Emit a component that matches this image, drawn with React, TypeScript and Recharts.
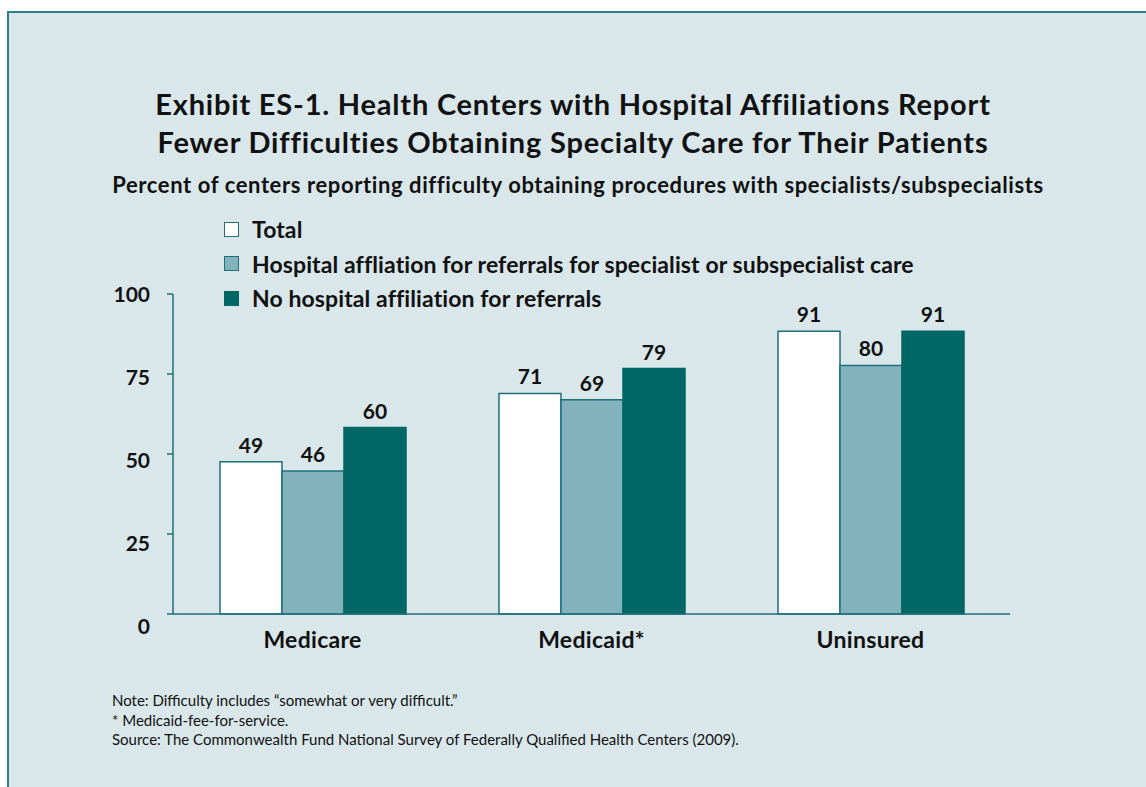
import React from 'react';
import { BarChart, Bar, XAxis, YAxis, Legend, LabelList } from 'recharts';

const categories = ['Medicare', 'Medicaid*', 'Uninsured'];
const totalValues = [49, 71, 91];
const affiliatedValues = [46, 69, 80];
const notAffiliatedValues = [60, 79, 91];
const yTicks = [0, 25, 50, 75, 100];
const boundaryTicks = [0, 1, 2, 3];

const seriesInfo = [
  { key: 'total', name: 'Total', fill: '#ffffff', stroke: '#1f6f7b' },
  { key: 'affiliated', name: 'Hospital affliation for referrals for specialist or subspecialist care', fill: '#82b3bd', stroke: '#1f6f7b' },
  { key: 'notAffiliated', name: 'No hospital affiliation for referrals', fill: '#006766', stroke: '#006766' },
];

const data = categories.map((name, i) => ({
  name,
  total: totalValues[i],
  affiliated: affiliatedValues[i],
  notAffiliated: notAffiliatedValues[i],
}));

const FONT = 'Lato, "Open Sans", sans-serif';
const AXIS = '#1f6f7b';

const YTick = ({ x, y, payload }: any) => {
  // labels in the original sit a little lower the closer they are to 0
  const shift = -1 + (100 - payload.value) * 0.12;
  return (
    <text x={x} y={y + shift} textAnchor="end" dominantBaseline="central"
      fontFamily={FONT} fontWeight={700} fontSize={21} fill="#111">
      {payload.value}
    </text>
  );
};

const LegendContent = () => (
  <div style={{ fontFamily: FONT, fontWeight: 700, fontSize: 23, letterSpacing: 0.1, color: '#111' }}>
    {seriesInfo.map((s) => (
      <div key={s.key} style={{ display: 'flex', alignItems: 'center', height: 34.5 }}>
        <span style={{
          display: 'inline-block', width: 13, height: 13, background: s.fill,
          border: `1.5px solid ${s.stroke}`, marginRight: 13,
        }} />
        <span style={{ whiteSpace: 'nowrap' }}>{s.name}</span>
      </div>
    ))}
  </div>
);

export default function App() {
  return (
    <div style={{
      position: 'fixed', left: 7, top: 11, width: 1139, height: 776, boxSizing: 'border-box',
      background: '#d9e7ea', borderTop: '2px solid #2f7f8a', borderLeft: '2px solid #2f7f8a',
      fontFamily: FONT, color: '#111', overflow: 'hidden',
    }}>
      <div style={{
        position: 'absolute', left: 0, width: 1128, top: 72, textAlign: 'center',
        fontWeight: 700, fontSize: 29, lineHeight: '38px', letterSpacing: 0.8,
      }}>
        Exhibit ES-1. Health Centers with Hospital Affiliations Report<br />
        Fewer Difficulties Obtaining Specialty Care for Their Patients
      </div>
      <div style={{
        position: 'absolute', left: 0, width: 1138, top: 158, textAlign: 'center',
        fontWeight: 700, fontSize: 22, lineHeight: '28px', letterSpacing: 0.6,
      }}>
        Percent of centers reporting difficulty obtaining procedures with specialists/subspecialists
      </div>

      <div style={{ position: 'absolute', left: 0, top: 0 }}>
        <BarChart width={1137} height={774} data={data}
          margin={{ top: 281, right: 136, left: 104, bottom: 133 }}
          barGap={0} barSize={62}>
          <XAxis xAxisId="bounds" type="number" domain={[0, 3]} ticks={boundaryTicks} allowDataOverflow
            tick={false} height={1} tickSize={7}
            axisLine={{ stroke: AXIS, strokeWidth: 1.5 }} tickLine={{ stroke: AXIS, strokeWidth: 1.5 }} />
          <XAxis xAxisId="cat" dataKey="name" height={39} axisLine={false} tickLine={false}
            tickSize={0} tickMargin={17}
            tick={{ fontFamily: FONT, fontWeight: 700, fontSize: 23, letterSpacing: 0.3, fill: '#111' }} />
          <YAxis yAxisId="bars" domain={[0, 103]} hide width={0} />
          <YAxis yAxisId="ticks" domain={[0, 100]} ticks={yTicks} width={60} allowDataOverflow
            tickSize={6} tickMargin={17} tick={<YTick />}
            axisLine={{ stroke: AXIS, strokeWidth: 1.5 }} tickLine={{ stroke: AXIS, strokeWidth: 1.5 }} />
          <Legend layout="vertical" align="center" verticalAlign="middle" content={<LegendContent />}
            wrapperStyle={{ left: 215, top: 199, width: 'auto', height: 'auto' }} />
          {seriesInfo.map((s) => (
            <Bar key={s.key} dataKey={s.key} name={s.name} xAxisId="cat" yAxisId="bars"
              fill={s.fill} stroke={s.stroke} strokeWidth={1.5} isAnimationActive={false}>
              <LabelList dataKey={s.key} position="top" offset={9}
                style={{ fontFamily: FONT, fontWeight: 700, fontSize: 21, fill: '#111' }} />
            </Bar>
          ))}
        </BarChart>
      </div>

      <div style={{
        position: 'absolute', left: 103, top: 678, fontSize: 15, lineHeight: '19.5px',
      }}>
        <div>Note: Difficulty includes “somewhat or very difficult.”</div>
        <div>* Medicaid-fee-for-service.</div>
        <div>Source: The Commonwealth Fund National Survey of Federally Qualified Health Centers (2009).</div>
      </div>
    </div>
  );
}
